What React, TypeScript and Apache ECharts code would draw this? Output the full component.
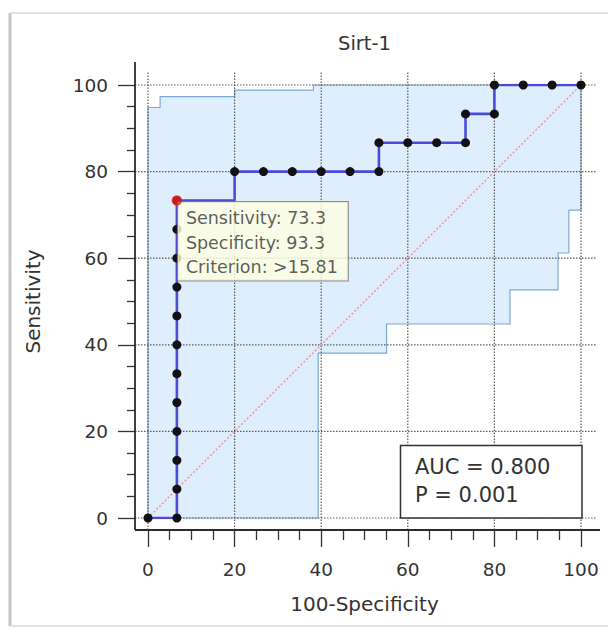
import React, { useEffect, useRef } from 'react';
import * as echarts from 'echarts';

const TITLE = 'Sirt-1';
const X_NAME = '100-Specificity';
const Y_NAME = 'Sensitivity';
const TICKS = [0, 20, 40, 60, 80, 100];

// ROC curve vertices: x = 100-Specificity, y = Sensitivity
const ROC_X = [0, 6.67, 6.67, 6.67, 6.67, 6.67, 6.67, 6.67, 6.67, 6.67, 6.67, 6.67, 6.67, 20, 20, 26.67, 33.33, 40, 46.67, 53.33, 53.33, 60, 66.67, 73.33, 73.33, 80, 80, 86.67, 93.33, 100];
const ROC_Y = [0, 0, 6.67, 13.33, 20, 26.67, 33.33, 40, 46.67, 53.33, 60, 66.67, 73.33, 73.33, 80, 80, 80, 80, 80, 80, 86.67, 86.67, 86.67, 86.67, 93.33, 93.33, 100, 100, 100, 100];
// vertex without a criterion dot (index into ROC arrays)
const NO_DOT = [13];

// 95% confidence bounds
const UPPER_X = [0, 0, 2.8, 2.8, 20, 20, 38.2, 38.2, 100];
const UPPER_Y = [0, 94.8, 94.8, 97.3, 97.3, 98.8, 98.8, 100, 100];
const LOWER_X = [0, 39.3, 39.3, 55.1, 55.1, 83.6, 83.6, 94.7, 94.7, 97.2, 97.2, 100, 100];
const LOWER_Y = [0, 0, 38.1, 38.1, 44.8, 44.8, 52.7, 52.7, 61.2, 61.2, 71.1, 71.1, 100];

// Optimal criterion
const CRIT_POINT = [6.67, 73.33];
const CRIT_LINES = ['Sensitivity: 73.3', 'Specificity: 93.3', 'Criterion: >15.81'];

const AUC_LINES = ['AUC = 0.800', 'P = 0.001'];

const FONT = 'DejaVu Sans';
const TXT = '#333333';

// axis-line / gridline extents (in axis units, beyond 0..100)
const AX_X_MIN = -3;
const AX_X_MAX = 104.4;
const AX_Y_MIN = -2.77;
const AX_Y_MAX = 105.3;
const GRID_X_MAX = 103.7;
const GRID_Y_MAX = 103;

export default function App() {
  const ref = useRef<HTMLDivElement>(null);
  useEffect(() => {
    document.body.style.margin = '0';
    const chart = echarts.init(ref.current!, null, { renderer: 'svg' });

    const rocData = ROC_X.map((x, i) =>
      NO_DOT.includes(i) ? { value: [x, ROC_Y[i]], symbol: 'none' } : { value: [x, ROC_Y[i]] }
    );

    const option: any = {
      animation: false,
      backgroundColor: '#ffffff',
      grid: { left: 148, top: 85, width: 433, height: 433, containLabel: false },
      xAxis: {
        type: 'value', min: 0, max: 100, interval: 20, offset: 12,
        axisLine: { show: false, onZero: false },
        axisTick: { show: true, length: 17, lineStyle: { color: TXT, width: 1.3 } },
        minorTick: { show: true, splitNumber: 4, length: 10, lineStyle: { color: TXT, width: 1.3 } },
        splitLine: { show: false },
        axisLabel: { fontSize: 18.5, color: TXT, fontFamily: FONT, margin: 30 },
        name: X_NAME, nameLocation: 'middle', nameGap: 64,
        nameTextStyle: { fontSize: 20, color: TXT, fontFamily: FONT },
      },
      yAxis: {
        type: 'value', min: 0, max: 100, interval: 20, offset: 13,
        axisLine: { show: false, onZero: false },
        axisTick: { show: true, length: 17, lineStyle: { color: TXT, width: 1.3 } },
        minorTick: { show: true, splitNumber: 4, length: 8, lineStyle: { color: TXT, width: 1.3 } },
        splitLine: { show: false },
        axisLabel: { fontSize: 18.5, color: TXT, fontFamily: FONT, margin: 27 },
        name: Y_NAME, nameLocation: 'middle', nameGap: 92,
        nameTextStyle: { fontSize: 20, color: TXT, fontFamily: FONT },
      },
      graphic: [
        { type: 'line', z: 0, shape: { x1: 10, y1: 13, x2: 10, y2: 626 }, style: { stroke: '#c6c6c6', lineWidth: 3 } },
        { type: 'line', z: 0, shape: { x1: 10, y1: 13, x2: 608, y2: 13 }, style: { stroke: '#e2e2e2', lineWidth: 2 } },
        { type: 'line', z: 0, shape: { x1: 10, y1: 626, x2: 608, y2: 626 }, style: { stroke: '#e2e2e2', lineWidth: 2 } },
        {
          type: 'text', x: 364.5, y: 43, z: 50,
          style: { text: TITLE, align: 'center', verticalAlign: 'middle', fontSize: 19.5, fontFamily: FONT, fill: TXT },
        },
        {
          type: 'group', z: 100,
          children: [
            { type: 'rect', shape: { x: 400.5, y: 445.5, width: 181.5, height: 72.5 }, style: { fill: '#ffffff', stroke: '#333', lineWidth: 1.5 }, z: 100 },
            { type: 'text', x: 415, y: 467, z: 101, style: { text: AUC_LINES[0], verticalAlign: 'middle', fontSize: 21, fontFamily: FONT, fill: TXT } },
            { type: 'text', x: 415, y: 495, z: 101, style: { text: AUC_LINES[1], verticalAlign: 'middle', fontSize: 21, fontFamily: FONT, fill: TXT } },
          ],
        },
      ],
      series: [
        {
          type: 'custom', name: 'band', z: 1, silent: true, clip: false,
          data: [[0, 0]],
          renderItem: (_p: any, api: any) => {
            const pts: number[][] = [];
            for (let i = 0; i < UPPER_X.length; i++) pts.push(api.coord([UPPER_X[i], UPPER_Y[i]]));
            for (let i = LOWER_X.length - 1; i >= 0; i--) pts.push(api.coord([LOWER_X[i], LOWER_Y[i]]));
            return {
              type: 'polygon', shape: { points: pts },
              style: { fill: '#dfeefc', stroke: '#7ea8d6', lineWidth: 1.2 },
            };
          },
        },
        {
          type: 'custom', name: 'grid', z: 2, silent: true, clip: false,
          data: TICKS.map((t) => [t, t]),
          encode: { x: 0, y: 1 },
          renderItem: (_p: any, api: any) => {
            const v = api.value(0);
            const h0 = api.coord([AX_X_MIN, v]);
            const h1 = api.coord([GRID_X_MAX, v]);
            const v0 = api.coord([v, AX_Y_MIN]);
            const v1 = api.coord([v, GRID_Y_MAX]);
            const st = { stroke: '#5a5a5a', lineWidth: 1.2, lineDash: [1.5, 1.5] };
            return {
              type: 'group',
              children: [
                { type: 'line', shape: { x1: h0[0], y1: h0[1], x2: h1[0], y2: h1[1] }, style: st },
                { type: 'line', shape: { x1: v0[0], y1: v0[1], x2: v1[0], y2: v1[1] }, style: st },
              ],
            };
          },
        },
        {
          type: 'custom', name: 'axes', z: 6, silent: true, clip: false,
          data: [[0, 0]],
          renderItem: (_p: any, api: any) => {
            const o = api.coord([AX_X_MIN, AX_Y_MIN]);
            const yt = api.coord([AX_X_MIN, AX_Y_MAX]);
            const xr = api.coord([AX_X_MAX, AX_Y_MIN]);
            const st = { stroke: '#2a2a2a', lineWidth: 1.8 };
            return {
              type: 'group',
              children: [
                { type: 'line', shape: { x1: o[0], y1: o[1], x2: yt[0], y2: yt[1] }, style: st },
                { type: 'line', shape: { x1: o[0], y1: o[1], x2: xr[0], y2: xr[1] }, style: st },
              ],
            };
          },
        },
        {
          type: 'line', name: 'reference', z: 3, silent: true,
          data: [[0, 0], [100, 100]],
          symbol: 'none',
          lineStyle: { color: '#e49a9a', width: 1.5, type: [2, 2] },
        },
        {
          type: 'line', name: 'ROC', z: 4, silent: true,
          data: rocData,
          symbol: 'circle', symbolSize: 9, showSymbol: true, showAllSymbol: true,
          itemStyle: { color: '#111111' },
          lineStyle: { color: '#4b4bd8', width: 2.6 },
        },
        {
          type: 'scatter', name: 'criterionBox', z: 10, silent: true,
          data: [CRIT_POINT],
          symbolSize: 1,
          itemStyle: { color: 'rgba(0,0,0,0)' },
          label: {
            show: true,
            position: [1.5, 1.9],
            align: 'left', verticalAlign: 'top',
            formatter: CRIT_LINES.join('\n'),
            backgroundColor: '#ffffe1',
            borderColor: '#777777', borderWidth: 1,
            padding: [4, 10, 1, 8],
            fontSize: 17.5, lineHeight: 24.5,
            color: TXT, fontFamily: FONT,
          },
        },
        {
          type: 'scatter', name: 'criterion', z: 12, silent: true,
          data: [CRIT_POINT],
          symbolSize: 10.5,
          itemStyle: { color: '#e8262b' },
        },
      ],
    };
    chart.setOption(option);
    return () => chart.dispose();
  }, []);
  return <div ref={ref} style={{ width: 608, height: 634 }} />;
}
